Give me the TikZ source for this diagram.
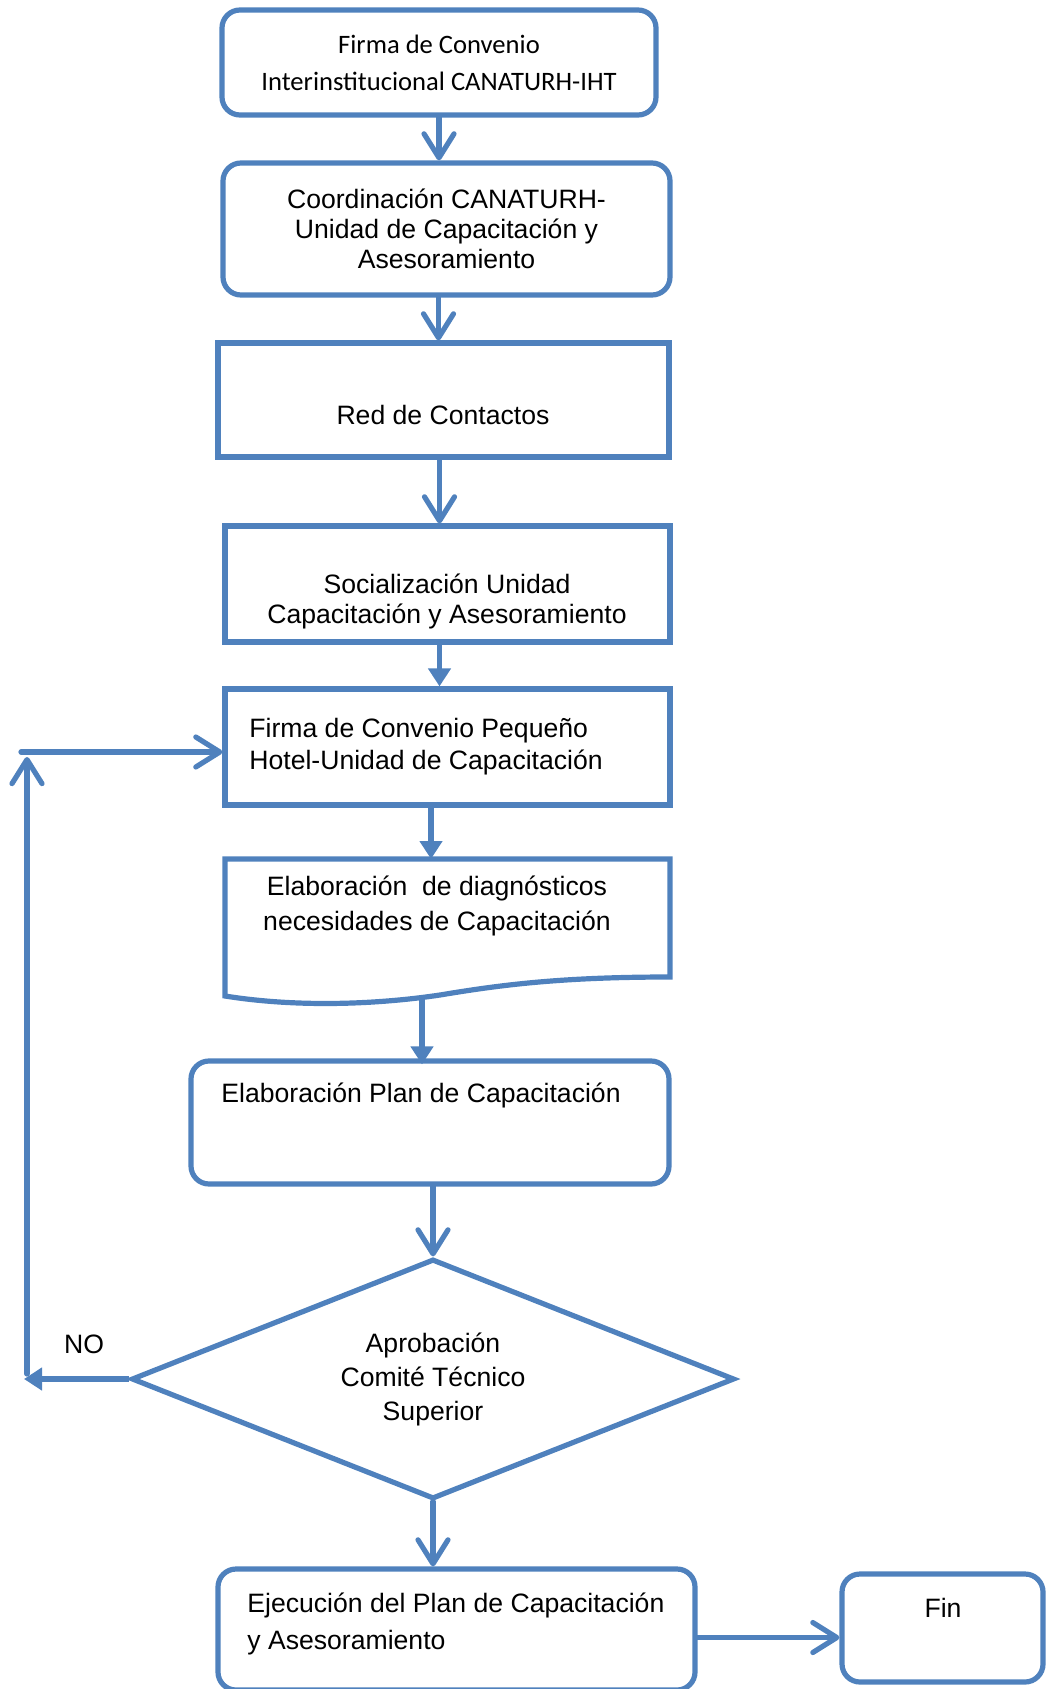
\documentclass[tikz,border=0pt]{standalone}
\usepackage{fontspec}
\setmainfont{Liberation Sans}
\newfontfamily\calibrifont{Carlito}
\usetikzlibrary{shapes.geometric,arrows.meta}
\definecolor{flowblue}{RGB}{79,129,189}
\tikzset{
    flow/.style={draw=flowblue, line width=2.6pt},
    rbox/.style={flow, rounded corners=9pt},
    sbox/.style={flow},
    decision/.style={flow, diamond, shape aspect=2.5, align=center},
    arr/.style={flow, line cap=round, -{Straight Barb[length=12pt,width=15pt,round]}},
    tri/.style={flow, -{Triangle[length=9pt,width=11pt]}},
    txt/.style={font=\fontsize{13.3}{#1}\selectfont},
    txt/.default=15
}
\begin{document}
\begin{tikzpicture}[x=0.5pt, y=-0.5pt, every node/.style={inner sep=0pt, font=\fontsize{13.3}{15}\selectfont}]
    % Fix the page size and cut what runs past the bottom
    \useasboundingbox (0,0) rectangle (1047,1689);
    \clip (0,0) rectangle (1047,1689);

    % Boxes of the flow, top to bottom
    \node[rbox, minimum width=217pt, minimum height=52.5pt, align=center,
          font=\calibrifont\fontsize{13.3}{18.5}\selectfont] (b1) at (439,62.5)
          {Firma de Convenio\\Interinstitucional CANATURH-IHT};
    \node[rbox, minimum width=223.5pt, minimum height=66pt, align=center] (b2) at (446.5,229)
          {Coordinación CANATURH-\\Unidad de Capacitación y\\Asesoramiento};
    \node[sbox, minimum width=225.5pt, minimum height=57pt] (b3) at (443.5,400) {};
    \node (t3) at (443,415) {Red de Contactos};
    \node[sbox, minimum width=222.5pt, minimum height=58pt] (b4) at (447.5,584) {};
    \node[align=center] (t4) at (447,601) {Socialización Unidad\\Capacitación y Asesoramiento};
    \node[sbox, minimum width=222.5pt, minimum height=58pt] (b5) at (447.5,747) {};
    \node[txt=16, align=left, anchor=west] (t5) at (249,747) {Firma de Convenio Pequeño\\Hotel-Unidad de Capacitación};

    % Document shape with wavy bottom
    \draw[flow] (225,859) -- (670,859) -- (670,977)
        .. controls (560,977) and (500,985) .. (440,995)
        .. controls (380,1004) and (300,1008) .. (225,996) -- cycle;
    \coordinate (b6top) at (431,859);
    \coordinate (b6bot) at (422,995);
    \node[txt=17.5, align=center] (t6) at (437,905.5) {Elaboración\ \ de diagnósticos\\necesidades de Capacitación};

    \node[rbox, minimum width=239pt, minimum height=61.5pt] (b7) at (430,1122.5) {};
    \node[anchor=west] (t7) at (221,1095) {Elaboración Plan de Capacitación};
    \node[decision, minimum width=301.5pt, minimum height=120pt, txt=17] (d) at (433,1379)
          {Aprobación\\Comité Técnico\\Superior};
    \node[rbox, minimum width=238.5pt, minimum height=60.5pt] (b8) at (456.5,1629.5) {};
    \node[txt=18.5, align=left, anchor=west] (t8) at (247,1623.5) {Ejecución del Plan de Capacitación\\y Asesoramiento};
    \node[rbox, minimum width=100.5pt, minimum height=54pt] (fin) at (942.5,1628) {};
    \node (tfin) at (943,1608) {Fin};

    % Connectors
    \draw[arr] (b1.south) -- (b1.south |- b2.north);
    \draw[arr] ([xshift=-4pt]b2.south) -- ([xshift=-4pt]b2.south |- b3.north);
    \draw[arr] ([xshift=-2pt]b3.south) -- ([xshift=-2pt]b3.south |- b4.north);
    \draw[tri] ([xshift=-4pt]b4.south) -- ([xshift=-4pt]b4.south |- b5.north);
    \draw[tri] (b6top |- b5.south) -- (b6top);
    \draw[tri] (b6bot) -- ([yshift=-3pt]b6bot |- b7.north);
    \draw[arr] (d.north |- b7.south) -- (d.north);
    \draw[arr] (d.south) -- (d.south |- b8.north);
    \draw[arr] ([yshift=-4pt]b8.east) -- ([yshift=-4pt]b8.east -| fin.west);

    % Return path when not approved
    \coordinate (loopA) at (24,1379);
    \coordinate (loopB) at (27,1374);
    \coordinate (loopC) at (27,757);
    \coordinate (loopD) at (21,752);
    \draw[tri] (d.west) -- (d.west -| loopA);
    \draw[arr] (loopB) -- (loopC);
    \draw[arr] (loopD) -- (loopD -| b5.west);
    \node (no) at (84,1344) {NO};
\end{tikzpicture}
\end{document}
